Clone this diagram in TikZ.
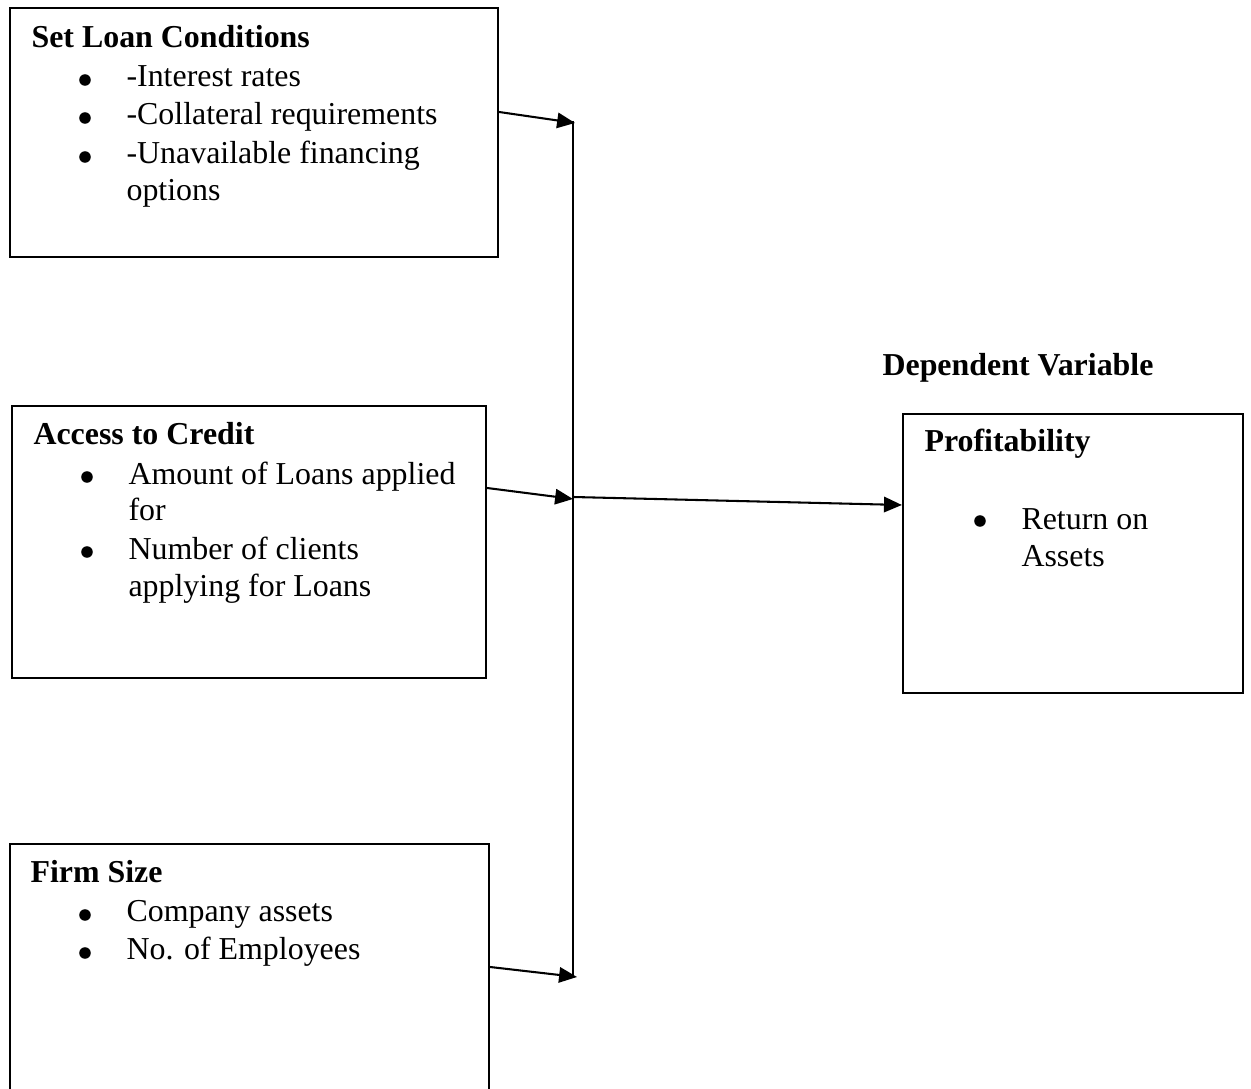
\documentclass[tikz,border=0pt]{standalone}
\usepackage{fontspec}
\setmainfont{Liberation Serif}
\usetikzlibrary{arrows.meta,fit}
\tikzset{
  box/.style={draw, line width=0.8pt, inner sep=0pt},
  txt/.style={anchor=base west, inner sep=0pt, font=\fontsize{11.6}{14}\selectfont},
  hd/.style={txt, font=\fontsize{11.6}{14}\selectfont\bfseries},
  dot/.style={circle, fill, draw=none, inner sep=0pt, minimum size=4.2pt},
  arr/.style={-{Triangle[length=6.5pt,width=5.6pt]}, line width=0.75pt},
}
\begin{document}
\begin{tikzpicture}[x=0.3636pt, y=-0.3636pt]
  \clip (0,0) rectangle (1251,1089);
  \node[box, fit={(10,8) (498,257)}] (slc) {};
  \node[box, fit={(12,406) (486,678)}] (acc) {};
  \node[box, fit={(10,844) (489,1110)}] (fsz) {};
  \node[box, fit={(903,414) (1243,693)}] (pro) {};

  \node[hd] (slc-h) at (31,48) {Set Loan Conditions};
  \foreach \t/\y [count=\i] in {-Interest rates/87, -Collateral requirements/125, -Unavailable financing/164} {
    \node[dot] (slc-b\i) at (85,\y-7) {};
    \node[txt] (slc-t\i) at (126,\y) {\t};
  }
  \node[txt] (slc-t4) at (126,201) {options};

  \node[hd] (acc-h) at (33,445) {Access to Credit};
  \node[dot] (acc-b1) at (87,477) {};
  \node[txt] (acc-t1) at (128,485) {Amount of Loans applied};
  \node[txt] (acc-t2) at (128,521) {for};
  \node[dot] (acc-b2) at (87,552) {};
  \node[txt] (acc-t3) at (128,560) {Number of clients};
  \node[txt] (acc-t4) at (128,597) {applying for Loans};

  \node[hd] (fsz-h) at (30,883) {Firm Size};
  \node[dot] (fsz-b1) at (85,915) {};
  \node[txt] (fsz-t1) at (126,922) {Company assets};
  \node[dot] (fsz-b2) at (85,953) {};
  \node[txt] (fsz-t2) at (126,960) {No. of Employees};

  \node[hd] (dep) at (882,376) {Dependent Variable};
  \node[hd] (pro-h) at (924,452) {Profitability};
  \node[dot] (pro-b1) at (980,521) {};
  \node[txt] (pro-t1) at (1021,530) {Return on};
  \node[txt] (pro-t2) at (1021,567) {Assets};

  \coordinate (top) at (573,121);
  \coordinate (bot) at (573,977);
  \coordinate (j1) at (575,123);
  \coordinate (j2) at (573,499);
  \coordinate (j3) at (577,977);
  \coordinate (mid) at (573,497);
  \draw[line width=0.75pt] (top) -- (bot);
  \draw[arr] (slc.east |- 0,112) -- (j1);
  \draw[arr] (acc.east |- 0,488) -- (j2);
  \draw[arr] (fsz.east |- 0,967) -- (j3);
  \draw[arr] (mid) -- (pro.west |- 0,505);
\end{tikzpicture}
\end{document}
